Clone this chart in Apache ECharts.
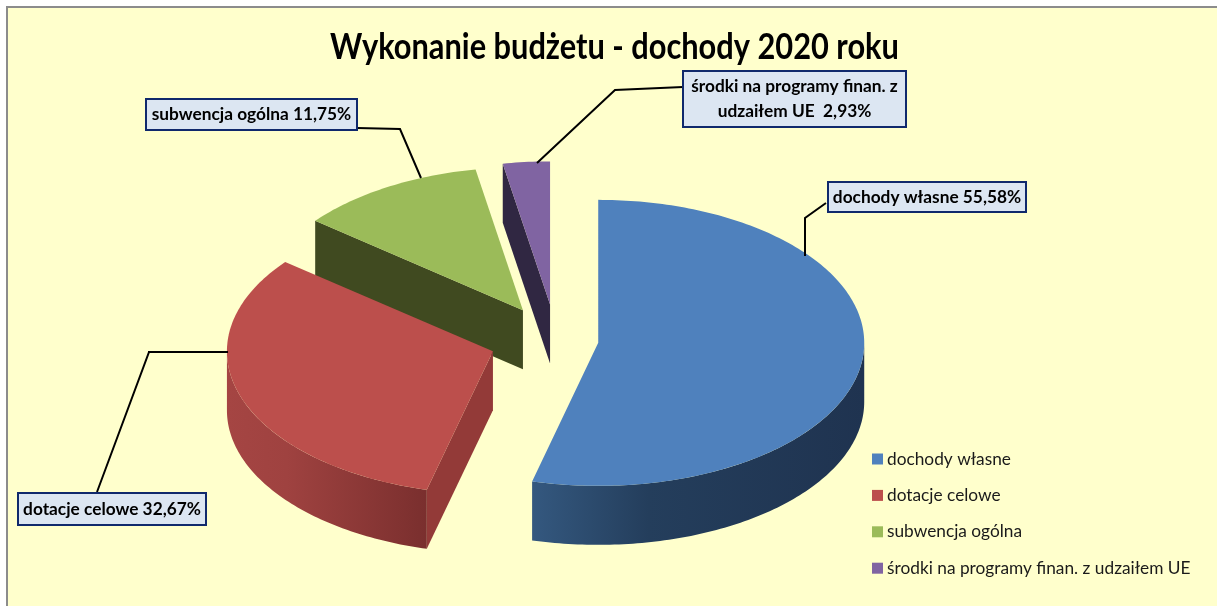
<!DOCTYPE html>
<html>
<head>
<meta charset="utf-8">
<title>Wykonanie budżetu - dochody 2020 roku</title>
<style>
  html, body { margin: 0; padding: 0; background: #fff; }
  #main { width: 1217px; height: 606px; }
</style>
<script src="https://cdn.jsdelivr.net/npm/echarts@6/dist/echarts.min.js"></script>
</head>
<body>
<div id="main"></div>
<script>
// dane
const chartTitle = 'Wykonanie budżetu - dochody 2020 roku';
const categories = ['dochody własne', 'dotacje celowe', 'subwencja ogólna', 'środki na programy finan. z udzaiłem UE'];
const values = [55.58, 32.67, 11.75, 2.93];
const labelTexts = ['dochody własne 55,58%', 'dotacje celowe 32,67%', 'subwencja ogólna 11,75%', 'środki na programy finan. z\nudzaiłem UE  2,93%'];

// kolory
const topColors = ['#4f81bd', '#bc4f4c', '#9bbb59', '#8064a2'];
const faceColors = ['#2f5078', '#933a38', '#404a20', '#302742'];
const wallStops = [
  [[0, '#34587f'], [0.35, '#243e5c'], [1, '#1f3350']],
  [[0, '#a54543'], [0.3, '#9f4240'], [1, '#7a2f2e']],
  [[0, '#404a20'], [1, '#404a20']],
  [[0, '#302742'], [1, '#302742']]
];

// geometria kołowego 3D
const pie = { cx: 556, cy: 340, rx: 266, ry: 143, depth: 59 };
const explode = [0.16, 0.25, 0.243, 0.25];

const total = values.reduce((a, b) => a + b, 0);

function point(c, a, dy) {
  const r = a * Math.PI / 180;
  return [c[0] + pie.rx * Math.sin(r), c[1] - pie.ry * Math.cos(r) + (dy || 0)];
}

function arc(c, from, to, dy) {
  const pts = [];
  const n = Math.max(2, Math.ceil(Math.abs(to - from)));
  for (let i = 0; i <= n; i++) {
    pts.push(point(c, from + (to - from) * i / n, dy));
  }
  return pts;
}

function radialFace(c, a, color) {
  const p = point(c, a);
  return {
    type: 'polygon',
    shape: { points: [c, p, [p[0], p[1] + pie.depth], [c[0], c[1] + pie.depth]] },
    style: { fill: color }
  };
}

function renderSlice(idx) {
  return function () {
    const start = values.slice(0, idx).reduce((a, b) => a + b, 0) / total * 360;
    const end = start + values[idx] / total * 360;
    const mid = (start + end) / 2;
    const c = point([pie.cx, pie.cy], mid).map((v, k) => [pie.cx, pie.cy][k] + (v - [pie.cx, pie.cy][k]) * explode[idx]);
    const children = [];

    // boki przy promieniach, tylko te widoczne od przodu
    if (start > 180 && start < 360) children.push(radialFace(c, start, faceColors[idx]));
    if (end > 0 && end < 180) children.push(radialFace(c, end, faceColors[idx]));

    // ściana zewnętrzna, widoczna od 90 do 270 stopni
    const wallFrom = Math.max(start, 90);
    const wallTo = Math.min(end, 270);
    if (wallFrom < wallTo) {
      const pts = arc(c, wallFrom, wallTo).concat(arc(c, wallTo, wallFrom, pie.depth));
      const stops = wallStops[idx].map(s => ({ offset: s[0], color: s[1] }));
      children.push({
        type: 'polygon',
        shape: { points: pts },
        style: { fill: new echarts.graphic.LinearGradient(0, 0, 1, 0, stops) }
      });
    }

    // wierzch
    children.push({
      type: 'polygon',
      shape: { points: [c].concat(arc(c, start, end)) },
      style: { fill: topColors[idx] }
    });
    return { type: 'group', children: children };
  };
}

// opisy z liniami
const labelBoxes = [
  { x: 828, y: 182, w: 198, h: 30, line: [[826, 203], [805, 218], [805, 256]] },
  { x: 18, y: 493, w: 188, h: 32, line: [[97, 492], [149, 352], [148, 352], [228, 352]] },
  { x: 146, y: 99, w: 211, h: 31, line: [[357, 128], [400, 129], [421, 178]] },
  { x: 683, y: 71, w: 223, h: 56, line: [[683, 87], [615, 90], [537, 163]] }
];

const labelGraphics = [];
labelBoxes.forEach((b, i) => {
  labelGraphics.push({
    type: 'polyline', z: 50, silent: true,
    shape: { points: b.line },
    style: { stroke: '#000', lineWidth: 2, fill: null }
  });
  labelGraphics.push({
    type: 'rect', z: 51, silent: true,
    shape: { x: b.x, y: b.y, width: b.w, height: b.h },
    style: { fill: '#dce6f2', stroke: '#10296c', lineWidth: 2 }
  });
  labelGraphics.push({
    type: 'text', z: 52, silent: true,
    x: b.x + b.w / 2, y: b.y + b.h / 2,
    style: {
      text: labelTexts[i],
      fill: '#000',
      font: 'bold 17.3px Lato',
      lineHeight: 25,
      align: 'center',
      verticalAlign: 'middle'
    }
  });
});

const chart = echarts.init(document.getElementById('main'), null, { renderer: 'canvas' });

chart.setOption({
  animation: false,
  legend: {
    orient: 'vertical',
    left: 872,
    top: 449,
    padding: 0,
    itemWidth: 11,
    itemHeight: 11,
    itemGap: 16.4,
    icon: 'rect',
    data: categories,
    textStyle: { fontFamily: 'Lato', fontSize: 17.3, color: '#1a1a1a', padding: [0, 0, 0, -1], lineHeight: 20 }
  },
  graphic: [
    {
      type: 'rect', z: -10, silent: true,
      shape: { x: 7, y: 7, width: 1400, height: 800 },
      style: { fill: '#ffffcc', stroke: '#8c8c8c', lineWidth: 2 }
    },
    {
      // Lato jest szersze niż krój oryginału, więc tytuł jest zwężony
      type: 'text', z: 52, silent: true,
      x: 614.5, y: 47,
      scaleX: 0.855,
      style: {
        text: chartTitle,
        fill: '#000',
        font: 'bold 36px Lato',
        align: 'center',
        verticalAlign: 'middle'
      }
    }
  ].concat(labelGraphics),
  // kolejność rysowania: od tyłu do przodu
  series: categories.map((name, i) => ({
    type: 'custom',
    name: name,
    coordinateSystem: 'none',
    z: 10 - i,
    silent: true,
    itemStyle: { color: topColors[i] },
    renderItem: renderSlice(i),
    data: [[values[i]]]
  }))
});
</script>
</body>
</html>
